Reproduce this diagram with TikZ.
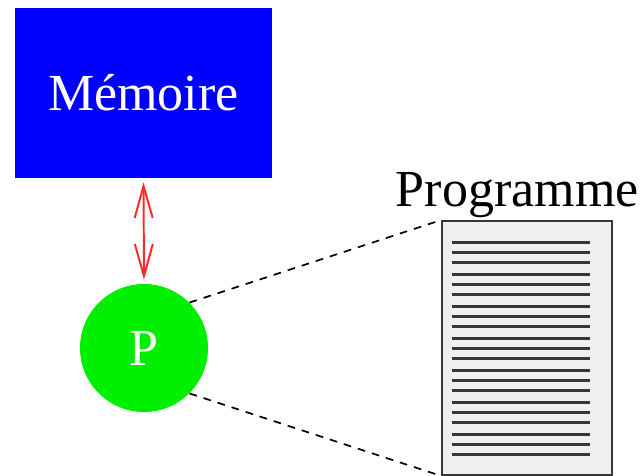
\documentclass[tikz,border=0pt]{standalone}
\usepackage{fontspec}
\setmainfont{Liberation Serif}
\usepackage{tikz}
\usetikzlibrary{arrows.meta, positioning}
\definecolor{memblue}{RGB}{0,0,255}
\definecolor{procgreen}{RGB}{0,238,0}
\definecolor{busred}{RGB}{255,40,40}
\definecolor{pagegray}{RGB}{240,240,240}
\definecolor{inkgray}{RGB}{55,55,55}
\tikzset{
  membox/.style={rectangle, fill=memblue, text=white,
    minimum width=6.425cm, minimum height=4.25cm, inner sep=0pt},
  procnode/.style={circle, fill=procgreen, text=white,
    minimum size=3.2cm, inner sep=0pt},
  pagebox/.style={rectangle, draw=inkgray, fill=pagegray, line width=1.3pt,
    minimum width=4.25cm, minimum height=6.35cm, inner sep=0pt},
  busarrow/.style={{Straight Barb[length=0.8cm,width=0.45cm]}-{Straight Barb[length=0.8cm,width=0.45cm]},
    line width=1.4pt, color=busred, shorten <=0.1cm, shorten >=0.1cm},
  fetchline/.style={line width=1.2pt, dash pattern=on 5.5pt off 5pt},
  textline/.style={line width=2pt, color=inkgray}
}

\begin{document}
\begin{tikzpicture}[font=\fontsize{37}{42}\selectfont]
  \useasboundingbox (0,0) rectangle (16,11.9);
  % Memory and processor
  \node[membox] (memoire) at (3.5875,9.575) {Mémoire};
  \node[procnode] (proc) at (3.6,3.2) {P};
  \draw[busarrow] (memoire.south) -- (proc.north);
  % Program listing
  \node[pagebox] (prog) at (13.175,3.2) {};
  \node[anchor=base] (progtitle) at (12.93,6.73) {Programme};
  \foreach \g in {0,...,6}
    \foreach \k in {0,1,2}
      \draw[textline] ({11.3},{5.83-0.8*\g-0.25*\k}) -- ({14.75},{5.83-0.8*\g-0.25*\k});
  % P reads the program
  \draw[fetchline] (proc.45) -- (prog.north west);
  \draw[fetchline] (proc.-45) -- (prog.south west);
\end{tikzpicture}
\end{document}
